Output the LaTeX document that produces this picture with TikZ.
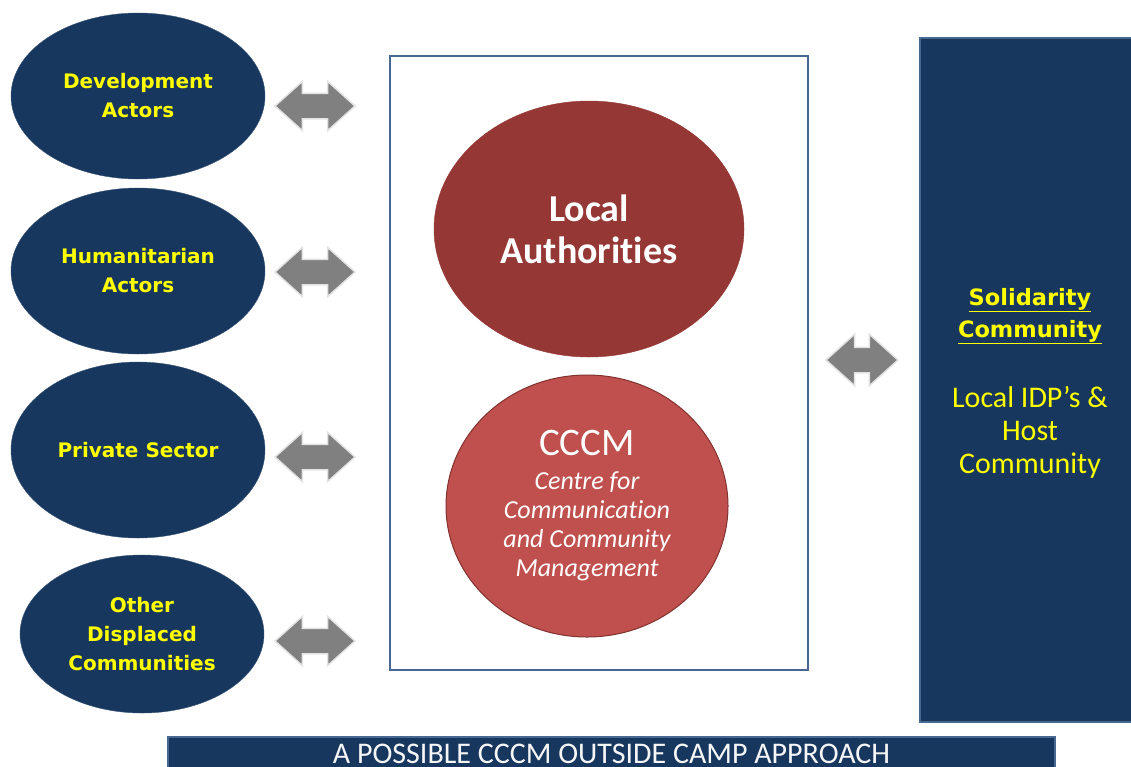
\documentclass[tikz,border=0pt]{standalone}
\usepackage{fontspec}
\setmainfont{Carlito}[Ligatures=NoCommon]
\newfontfamily\labelfont{DejaVu Sans}
\usetikzlibrary{shapes.geometric,shapes.arrows}

\definecolor{navy}{RGB}{23,55,94}
\definecolor{frameblue}{RGB}{72,104,145}
\definecolor{authred}{RGB}{149,55,53}
\definecolor{cccmred}{RGB}{192,80,77}
\definecolor{cccmedge}{RGB}{130,50,48}
\definecolor{arrowgray}{RGB}{128,128,128}
\definecolor{labelyellow}{RGB}{255,255,0}

\begin{document}
\begin{tikzpicture}[x=1pt, y=-1pt,
    actor/.style={ellipse, fill=navy, draw=navy!85!white, inner sep=0pt, text=labelyellow,
      align=center, font=\labelfont\bfseries\fontsize{20}{29}\selectfont},
    dblarrow/.style={double arrow, fill=arrowgray, draw=gray!22, line width=1.5pt,
      double arrow head extend=12pt, double arrow tip angle=84, minimum height=80pt,
      inner xsep=0pt, inner ysep=12pt}]
  \clip (0,0) rectangle (1131,766);

  % Left side: partner actors
  \node[actor, minimum width=254pt, minimum height=166pt] (dev) at (138,96) {Development\\Actors};
  \node[actor, minimum width=254pt, minimum height=166pt] (hum) at (138,271) {Humanitarian\\Actors};
  \node[actor, minimum width=254pt, minimum height=176pt] (priv) at (138,450) {Private Sector};
  \node[actor, minimum width=244pt, minimum height=158pt] (other) at (142,634) {Other\\Displaced\\Communities};

  % Block arrows between actors and the centre
  \node[dblarrow] (arrDev) at (315,106) {};
  \node[dblarrow] (arrHum) at (315,272) {};
  \node[dblarrow] (arrPriv) at (315,457) {};
  \node[dblarrow] (arrOther) at (315,641) {};

  % Centre frame
  \node[draw=frameblue, line width=1.5pt, minimum width=418pt, minimum height=614pt, inner sep=0pt] (frame) at (599,363) {};
  \node[ellipse, fill=authred, draw=authred, minimum width=310pt, minimum height=256pt, inner sep=0pt,
    text=white, align=center, font=\bfseries\fontsize{38}{42}\selectfont] (auth) at (589,229) {Local\\Authorities};
  \node[ellipse, fill=cccmred, draw=cccmedge, line width=1pt, minimum width=282pt, minimum height=262pt, inner sep=0pt,
    text=white, align=center, font=\fontsize{26}{29}\selectfont] (cccm) at (587,506)
    {{\fontsize{39}{36}\selectfont CCCM}\\[5pt]\itshape Centre for\\\itshape Communication\\\itshape and Community\\\itshape Management};

  % Right side: solidarity community
  \node[dblarrow, minimum height=72pt, double arrow head extend=13pt] (arrSolid) at (862,360) {};
  \node[fill=navy, draw=frameblue, line width=1.5pt, minimum width=225pt, minimum height=684pt, inner sep=0pt] (solid) at (1032.5,380) {};
  \node[text=labelyellow, align=center, font=\labelfont\bfseries\fontsize{22.5}{32}\selectfont] (solidHead) at (1030,316)
    {\underline{Solidarity}\\\underline{Community}};
  \node[text=labelyellow, align=center, font=\fontsize{30}{33}\selectfont] (solidText) at (1030,432)
    {Local IDP’s \&\\Host\\Community};

  % Title bar
  \node[fill=navy, draw=frameblue, line width=1.5pt, minimum width=887pt, minimum height=33pt, inner sep=0pt,
    text=white!93!gray, font=\fontsize{30}{30}\selectfont] (title) at (611.5,753.5) {A POSSIBLE CCCM OUTSIDE CAMP APPROACH};
\end{tikzpicture}
\end{document}
